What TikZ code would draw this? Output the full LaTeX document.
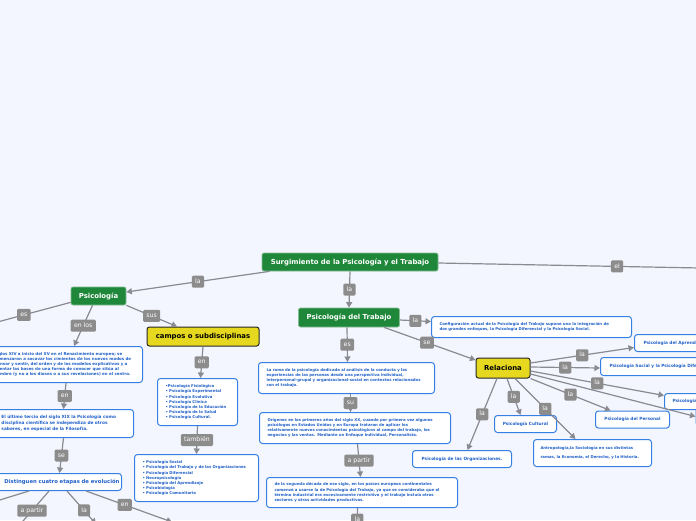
\documentclass[tikz,border=0pt]{standalone}
\usepackage{fontspec}
\setmainfont{DejaVu Sans}
\usetikzlibrary{positioning, arrows.meta}
\definecolor{canvas}{RGB}{243,246,254}
\definecolor{topicgreen}{RGB}{31,135,58}
\definecolor{keyyellow}{RGB}{229,216,30}
\definecolor{noteblue}{RGB}{52,128,228}
\definecolor{notetext}{RGB}{32,96,200}
\definecolor{taggray}{RGB}{140,140,140}
\definecolor{linkgray}{RGB}{138,138,145}

\begin{document}
\begin{tikzpicture}[
		x=1pt, y=-1pt,
		topic/.style={
			rectangle,
			draw=topicgreen!55!white,
			fill=topicgreen,
			text=white,
			line width=0.7pt,
			rounded corners=2pt,
			inner sep=0pt,
			font=\fontsize{6.9}{8}\selectfont\bfseries
		},
		keybox/.style={
			rectangle,
			draw=black!85,
			fill=keyyellow,
			text=black,
			line width=1pt,
			rounded corners=2.5pt,
			inner sep=0pt,
			font=\fontsize{6.9}{8}\selectfont\bfseries
		},
		note/.style={
			rectangle,
			draw=noteblue,
			fill=white,
			text=notetext,
			line width=1pt,
			rounded corners=3pt,
			anchor=north west,
			align=left,
			inner xsep=8pt,
			inner ysep=0pt,
			font=\fontsize{3.85}{5.1}\selectfont\bfseries
		},
		leaf/.style={note, align=center, inner xsep=2pt, font=\fontsize{4.3}{5}\selectfont\bfseries},
		tag/.style={
			rectangle,
			fill=taggray,
			text=white,
			rounded corners=1.2pt,
			inner xsep=3.3pt,
			inner ysep=0pt,
			text height=4.7pt,
			text depth=1.4pt,
			minimum height=12pt,
			font=\fontsize{6.2}{7}\selectfont
		},
		link/.style={draw=linkgray, line width=1.2pt},
		arrow/.style={link, -{Triangle[length=5.5pt, width=6pt]}}
		]
		
		\useasboundingbox (0,0) rectangle (696,520);
		\fill[canvas] (0,0) rectangle (696,520);
		\clip (0,0) rectangle (696,520);
		
		% central topics
		\node[topic, minimum width=176pt, minimum height=18pt] (surgimiento) at (350,262) {Surgimiento de la Psicología y el Trabajo};
		\node[topic, minimum width=55pt, minimum height=18pt] (psicologia) at (98.5,296) {Psicología};
		\node[topic, minimum width=101pt, minimum height=19pt] (trabajo) at (349,317.5) {Psicología del Trabajo};
		\node[keybox, minimum width=112pt, minimum height=19pt] (campos) at (203,336.5) {campos o subdisciplinas};
		\node[keybox, minimum width=54pt, minimum height=20pt] (relaciona) at (503,368) {Relaciona};
		
		% left branch
		\node[note, text width=140pt, minimum height=36pt, font=\fontsize{4}{5.2}\selectfont\bfseries] (renac) at (-14,346) {siglos XIV a inicio del XV en el Renacimiento europeo; se\\ comenzaron a socavar los cimientos de los nuevos modos de\\ pensar y sentir, del orden y de los modelos explicativos y a\\ asentar las bases de una forma de conocer que sitúa al\\ hombre (y no a los dioses o a sus revelaciones) en el centro.};
		\node[note, text width=124pt, minimum height=28pt, font=\fontsize{4.3}{6}\selectfont\bfseries] (tercio) at (-7,409) {El último tercio del siglo XIX la Psicología como\\ disciplina científica se independiza de otros\\ saberes, en especial de la Filosofía.};
		\node[note, anchor=north east, align=right, inner xsep=2pt, text width=128pt, minimum height=17pt, font=\fontsize{5.3}{6}\selectfont\bfseries] (etapas) at (122,473) {Distinguen cuatro etapas de evolución};
		\node[note, text width=64pt, minimum height=47pt] (basicas) at (157,378) {•Psicología Fisiológica\\ • Psicología Experimental\\ • Psicología Evolutiva\\ • Psicología Clínica\\ • Psicología de la Educación\\ • Psicología de la Salud\\ • Psicología Cultural.};
		\node[note, text width=108pt, minimum height=47pt] (aplicadas) at (134,454) {• Psicología Social\\ • Psicología del Trabajo y de las Organizaciones\\ • Psicología Diferencial\\ • Neuropsicología\\ • Psicología del Aprendizaje\\ • Psicobiología\\ • Psicología Comunitaria};
		
		% middle branch
		\node[note, text width=160pt, minimum height=31pt] (rama) at (258,362) {La rama de la psicología dedicada al análisis de la conducta y las\\ experiencias de las personas desde una perspectiva individual,\\ interpersonal-grupal y organizacional-social en contextos relacionados\\ con el trabajo.};
		\node[note, text width=175pt, minimum height=31pt] (origenes) at (259,412) {Orígenes en los primeros años del siglo XX, cuando por primera vez algunos\\ psicólogos en Estados Unidos y en Europa trataron de aplicar los\\ relativamente nuevos conocimientos psicológicos al campo del trabajo, los\\ negocios y las ventas. Mediante un Enfoque Individual, Personalista.};
		\node[note, text width=175pt, minimum height=30pt] (segunda) at (266,477) {de la segunda década de ese siglo, en los países europeos continentales\\ comenzó a usarse la de Psicología del Trabajo, ya que se consideraba que el\\ término industrial era excesivamente restrictivo y el trabajo incluía otros\\ sectores y otras actividades productivas.};
		\node[note, text width=184pt, minimum height=21pt] (actual) at (431,316) {Configuración actual de la Psicología del Trabajo supone una la integración de\\ dos grandes enfoques, la Psicología Diferencial y la Psicología Social.};
		
		% right branch
		\node[leaf, align=left, inner xsep=9pt, text width=92pt, minimum height=17pt] (aprend) at (634,334) {Psicología del Aprendizaje};
		\node[leaf, align=left, inner xsep=9pt, text width=152pt, minimum height=18pt] (social) at (600,357) {Psicología Social y la Psicología Diferencial};
		\node[leaf, align=left, inner xsep=8pt, text width=64pt, minimum height=16pt] (otra) at (664,393) {Psicología};
		\node[leaf, minimum width=60pt, minimum height=18pt] (borde) at (695.5,407) {};
		\node[leaf, minimum width=74pt, minimum height=17pt] (personal) at (595,410.5) {Psicología del Personal};
		\node[leaf, minimum width=62pt, minimum height=17pt] (cultural) at (494,415) {Psicología Cultural};
		\node[leaf, minimum width=99pt, minimum height=17pt] (organiz) at (412,450) {Psicología de las Organizaciones.};
		\node[leaf, align=left, inner xsep=7pt, text width=104pt, minimum height=27pt, font=\fontsize{3.85}{9}\selectfont\bfseries] (antropo) at (533,439) {Antropología,la Sociología en sus distintas\\ ramas, la Economía, el Derecho, y la Historia.};
		
		% loose ends
		\coordinate (elEnd) at (700,268);
		\coordinate (esEnd) at (-10,324);
		\coordinate (etapasOut) at (-10,503);
		\coordinate (apartirEnd) at (17,528);
		\coordinate (laEnd) at (96,524);
		\coordinate (enEnd) at (172,522);
		\coordinate (segundaEnd) at (357,535);
		
		% connectors
		\draw[arrow] ([xshift=8pt]surgimiento.south west) -- node[tag] {la} ([yshift=4pt]psicologia.east);
		\draw[link] ([yshift=-1pt]surgimiento.east) -- node[tag, pos=0.683] {el} (elEnd);
		\draw[arrow] (surgimiento.south) -- node[tag] {la} (trabajo.north);
		
		\draw[link] ([yshift=3pt]psicologia.south west) -- node[tag, pos=0.58] {es} (esEnd);
		\draw[arrow] ([xshift=-6pt]psicologia.south) -- node[tag] {en los} ([xshift=88pt]renac.north west);
		\draw[arrow] (psicologia.south east) -- node[tag] {sus} ([xshift=-26pt]campos.north);
		\draw[arrow] (campos.south) -- node[tag] {en} ([xshift=3pt]basicas.north);
		\draw[arrow] (basicas.south) -- node[tag] {también} (aplicadas.north);
		
		\draw[arrow] ([xshift=1.5pt]renac.south) -- node[tag] {en} (tercio.north);
		\draw[arrow] (tercio.south) -- node[tag] {se} ([xshift=4pt]etapas.north);
		\draw[link] ([xshift=40pt]etapas.south west) -- (etapasOut);
		\draw[link] ([xshift=60pt]etapas.south west) -- node[tag, pos=0.53] {a partir} (apartirEnd);
		\draw[arrow] ([xshift=78pt]etapas.south west) -- node[tag, pos=0.59] {la} (laEnd);
		\draw[arrow] ([xshift=97pt]etapas.south west) -- node[tag, pos=0.45] {en} (enEnd);
		
		\draw[arrow] ([yshift=-2.5pt]trabajo.east) -- node[tag] {la} ([yshift=5.5pt]actual.west);
		\draw[arrow] ([xshift=35pt]trabajo.south) -- node[tag, pos=0.47] {se} ([yshift=8pt]relaciona.west);
		\draw[arrow] ([xshift=-2pt]trabajo.south) -- node[tag] {es} ([xshift=1pt]rama.north);
		\draw[arrow] ([xshift=4pt]rama.south) -- node[tag] {su} ([xshift=-4.5pt]origenes.north);
		\draw[arrow] ([xshift=2.5pt]origenes.south) -- node[tag] {a partir} ([xshift=-1.5pt]segunda.north);
		\draw[link] ([xshift=-4.5pt]segunda.south) -- node[tag, pos=0.43] {la} (segundaEnd);
		
		\draw[arrow] ([yshift=5pt]relaciona.east) -- node[tag] {la} ([yshift=-4.5pt]aprend.west);
		\draw[arrow] ([yshift=1pt]relaciona.east) -- node[tag] {la} ([yshift=-1.5pt]social.west);
		\draw[arrow] ([yshift=-3pt]relaciona.east) -- node[tag] {la} ([yshift=6pt]otra.west);
		\draw[arrow] ([yshift=-6pt]relaciona.east) -- (borde.west);
		\draw[arrow] (relaciona.south east) -- node[tag] {la} ([xshift=-22pt]personal.north);
		\draw[arrow] ([xshift=12pt]relaciona.south) -- node[tag] {la} ([xshift=-17pt]antropo.north);
		\draw[arrow] ([xshift=4pt]relaciona.south) -- node[tag] {la} ([xshift=-5pt]cultural.north);
		\draw[arrow] ([xshift=-6pt]relaciona.south) -- node[tag] {la} ([xshift=5.5pt]organiz.north);
		
	\end{tikzpicture}
\end{document}
